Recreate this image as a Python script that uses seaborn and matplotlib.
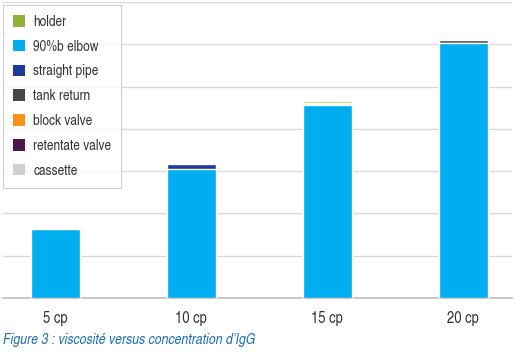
import matplotlib
matplotlib.use("Agg")
import matplotlib.pyplot as plt
import seaborn as sns
import numpy as np
from matplotlib.patches import Patch

categories = ["5 cp", "10 cp", "15 cp", "20 cp"]
series_names = ["holder", "90%b elbow", "straight pipe", "tank return",
                "block valve", "retentate valve", "cassette"]
colors = ["#8cb33c", "#00adef", "#1e3a96", "#434749",
          "#f7941d", "#4a1846", "#cfcfcf"]
# values per series
elbow      = [1.63, 3.05, 4.56, 6.03]
straight   = [0.00, 0.12, 0.03, 0.00]
tank       = [0.00, 0.00, 0.03, 0.07]
block      = [0.00, 0.00, 0.00, 0.02]
retentate  = [0.00, 0.00, 0.03, 0.03]
holder     = [0.00, 0.00, 0.03, 0.00]
cassette   = [0.00, 0.00, 0.00, 0.00]

stack = [("90%b elbow", elbow), ("straight pipe", straight), ("tank return", tank),
         ("block valve", block), ("holder", holder), ("retentate valve", retentate),
         ("cassette", cassette)]
cmap = dict(zip(series_names, colors))

FONT = ["TeX Gyre Heros Cn", "DejaVu Sans"]

sns.set_theme(style="white")
plt.rcParams["font.family"] = FONT

fig = plt.figure(figsize=(5.16, 3.6), dpi=100)
ax = fig.add_axes([3/516, 62/360, 509/516, 296/360])

cum = np.cumsum([v for _, v in stack], axis=0)
for i in range(len(stack) - 1, -1, -1):
    sns.barplot(x=categories, y=cum[i], color=cmap[stack[i][0]], width=0.36,
                saturation=1, ax=ax, zorder=3)

ax.set_ylim(0, 7)
ax.set_xlim(-0.385, 3.36)
ax.set_yticks(np.arange(0, 8, 1))
ax.yaxis.grid(True, color="#d9d9d9", linewidth=1)
ax.set_axisbelow(True)
ax.tick_params(axis="y", left=False, labelleft=False)
ax.tick_params(axis="x", bottom=False, labelsize=11.5, labelcolor="#333333", pad=3)
for s in ["top", "right", "left"]:
    ax.spines[s].set_visible(False)
ax.spines["bottom"].set_color("#c0c0c0")
ax.set_xlabel("")
ax.set_ylabel("")

handles = [Patch(facecolor=c, edgecolor="none") for c in colors]
leg = fig.legend(handles, series_names, loc="upper left",
                 bbox_to_anchor=(3/516, 1 - 5/360), borderaxespad=0,
                 frameon=True, fancybox=False,
                 prop={"family": FONT, "size": 10.5},
                 handlelength=0.85, handleheight=0.85,
                 labelspacing=0.74, borderpad=0.68, handletextpad=0.55)
leg.get_frame().set_edgecolor("#c4c4c4")
leg.get_frame().set_linewidth(0.8)
for t in leg.get_texts():
    t.set_color("#333333")

fig.text(3/516, 1 - 340/360, "Figure 3 : viscosité versus concentration d’IgG",
         color="#1f6fb4", fontsize=10.8, style="italic", va="center",
         family=FONT)

fig.savefig("out.png", dpi=100)
